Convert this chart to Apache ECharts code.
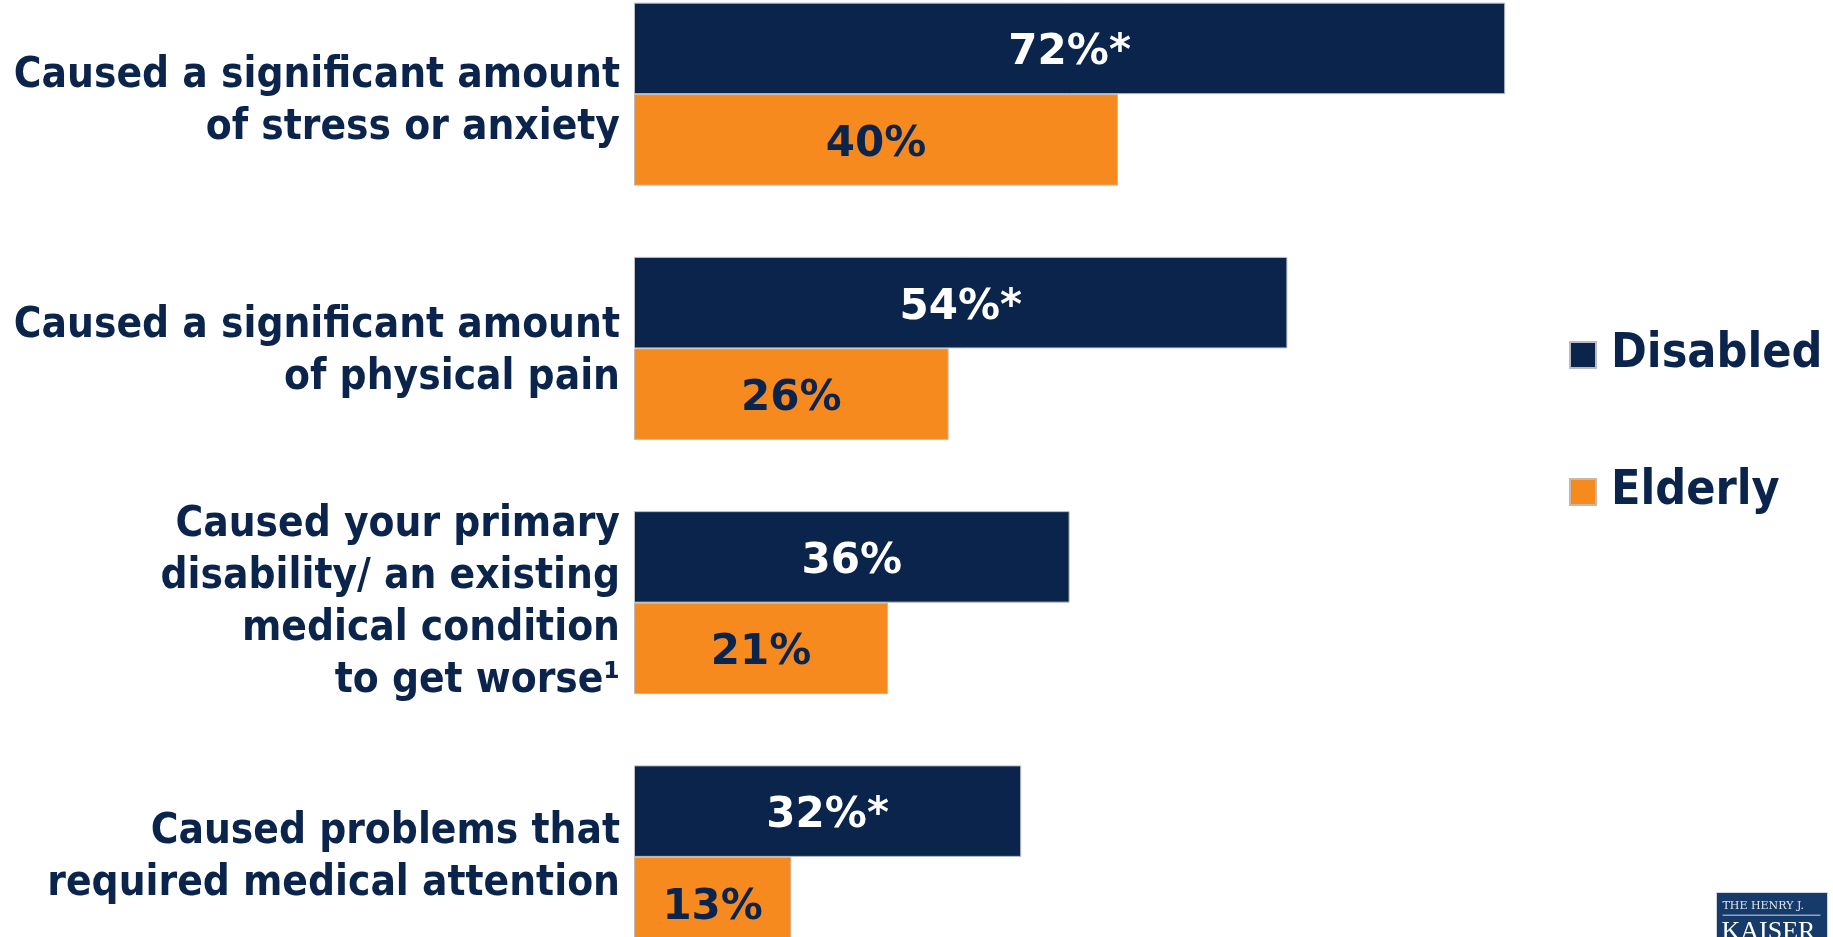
<!DOCTYPE html>
<html>
<head>
<meta charset="utf-8">
<script src="https://cdn.jsdelivr.net/npm/echarts@6/dist/echarts.min.js"></script>
<style>
html,body{margin:0;padding:0;background:#fff;}
#chart{width:1833px;height:937px;}
</style>
</head>
<body>
<div id="chart"></div>
<script>
const categories = [
  "Caused a significant amount\nof stress or anxiety",
  "Caused a significant amount\nof physical pain",
  "Caused your primary\ndisability/ an existing\nmedical condition\nto get worse\u00b9",
  "Caused problems that\nrequired medical attention"
];
const disabledValues = [72, 54, 36, 32];
const elderlyValues = [40, 26, 21, 13];
const disabledLabels = ["72%*", "54%*", "36%", "32%*"];
const elderlyLabels = ["40%", "26%", "21%", "13%"];

const NAVY = '#0a244c';
const ORANGE = '#f68a1f';
const LABEL_FONT = '"DejaVu Sans Condensed", "DejaVu Sans", sans-serif';

// spacer heights (px) placed above each axis label block to nudge it down
const labelSpacer = [16, 8, 0, 2];
const richSpacers = {};
labelSpacer.forEach(h => { if (h > 0) richSpacers['sp' + h] = { fontSize: 1, lineHeight: h }; });

const chart = echarts.init(document.getElementById('chart'));
chart.setOption({
  animation: false,
  backgroundColor: '#ffffff',
  legend: {
    orient: 'vertical',
    left: 1564,
    top: 325,
    itemWidth: 26,
    itemHeight: 26,
    itemGap: 87,
    icon: 'rect',
    data: ['Disabled', 'Elderly'],
    textStyle: {
      color: NAVY,
      fontFamily: LABEL_FONT,
      fontWeight: 'bold',
      fontSize: 48,
      lineHeight: 50,
      padding: [0, 0, 0, 10]
    }
  },
  grid: {
    left: 634,
    top: -33,
    height: 1017,
    right: 110,
    containLabel: false,
    outerBoundsMode: 'none'
  },
  xAxis: {
    type: 'value',
    min: 0,
    max: 90,
    show: false
  },
  yAxis: {
    type: 'category',
    inverse: true,
    data: categories,
    axisLine: { show: false },
    axisTick: { show: false },
    splitLine: { show: false },
    axisLabel: {
      margin: 14,
      align: 'right',
      color: NAVY,
      fontFamily: LABEL_FONT,
      fontWeight: 'bold',
      fontSize: 42,
      lineHeight: 52,
      formatter: (value, index) => {
        const h = labelSpacer[index];
        return h > 0 ? '{sp' + h + '| }\n' + value : value;
      },
      rich: richSpacers
    }
  },
  series: [
    {
      name: 'Disabled',
      type: 'bar',
      data: disabledValues,
      barWidth: 91.5,
      barGap: '0%',
      itemStyle: { color: NAVY, borderColor: '#b9bcc4', borderWidth: 1 },
      label: {
        show: true,
        position: 'inside',
        offset: [0, 5],
        color: '#ffffff',
        fontFamily: '"DejaVu Sans", sans-serif',
        fontWeight: 'bold',
        fontSize: 42,
        formatter: p => disabledLabels[p.dataIndex]
      }
    },
    {
      name: 'Elderly',
      type: 'bar',
      data: elderlyValues,
      barWidth: 91.5,
      barGap: '0%',
      itemStyle: { color: ORANGE, borderColor: '#c9b8a8', borderWidth: 1 },
      label: {
        show: true,
        position: 'inside',
        offset: [0, 5],
        color: NAVY,
        fontFamily: '"DejaVu Sans", sans-serif',
        fontWeight: 'bold',
        fontSize: 42,
        formatter: p => elderlyLabels[p.dataIndex]
      }
    }
  ],
  graphic: [
    {
      type: 'group',
      left: 1716,
      top: 892,
      children: [
        { type: 'rect', shape: { x: 0, y: 0, width: 111, height: 50 }, style: { fill: '#163a69', stroke: '#cfd6e0', lineWidth: 1 } },
        { type: 'text', style: { x: 6, y: 8, text: 'THE HENRY J.', fill: '#dfe5ee', font: '11px "DejaVu Serif", "Liberation Serif", serif' } },
        { type: 'rect', shape: { x: 6, y: 22, width: 98, height: 1.5 }, style: { fill: '#8ea3c2' } },
        { type: 'text', style: { x: 5, y: 27, text: 'KAISER', fill: '#ffffff', font: '26px "Liberation Serif", "DejaVu Serif", serif' } }
      ]
    }
  ]
});
</script>
</body>
</html>
